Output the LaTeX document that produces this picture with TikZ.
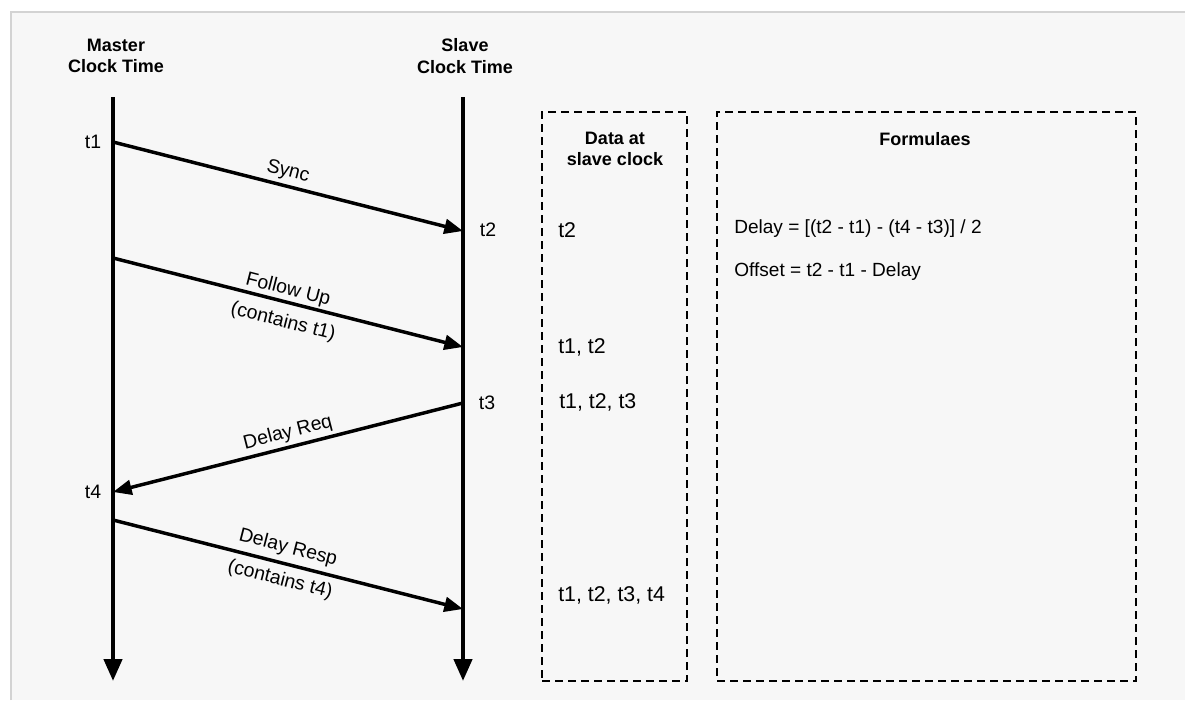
\documentclass[tikz,border=0pt]{standalone}
\usepackage{fontspec}
\setmainfont{Liberation Sans}
\usetikzlibrary{arrows.meta}
\definecolor{bgfill}{HTML}{F7F7F7}
\definecolor{bgline}{HTML}{D3D3D3}
\tikzset{
  lifeline/.style={line width=3.3pt,-{Triangle[length=16.5pt,width=13.5pt]}},
  msg/.style={line width=2.6pt,-{Triangle[length=14pt,width=11pt]}},
  dbox/.style={draw,line width=1pt,dash pattern=on 6pt off 3.75pt},
  head/.style={font=\fontsize{13.5}{16.2}\selectfont\bfseries,align=center,inner sep=0pt},
  txt/.style={font=\fontsize{14.6}{17}\selectfont,inner sep=0pt},
  dtxt/.style={font=\fontsize{16}{18}\selectfont,inner sep=0pt},
  ftxt/.style={font=\fontsize{14.3}{17}\selectfont,inner sep=0pt},
  lbl/.style={font=\fontsize{14.6}{17}\selectfont,inner sep=0pt}
}
\begin{document}
\begin{tikzpicture}[x=0.75pt,y=-0.75pt]
\useasboundingbox (0,0) rectangle (1185,700);
\fill[bgfill] (11,12) rectangle (1185,700);
\draw[bgline,line width=1pt] (11,700) -- (11,12) -- (1185,12);

% headers
\node[head] (mhead) at (116,56) {Master\\Clock Time};
\node[head] (shead) at (465,56) {Slave\\Clock Time};

% lifelines
\coordinate (mtop) at (113,97);
\coordinate (mbot) at (113,681);
\coordinate (stop) at (463,97);
\coordinate (sbot) at (463,681);
\draw[lifeline] (mtop) -- (mbot);
\draw[lifeline] (stop) -- (sbot);

% event points
\coordinate (t1m) at (113,142);
\coordinate (t2s) at (463,231);
\coordinate (fum) at (113,258);
\coordinate (fus) at (463,347);
\coordinate (t3s) at (463,403);
\coordinate (t4m) at (113,492);
\coordinate (drm) at (113,520);
\coordinate (drs) at (463,609);

\node[txt] (t1) at (93,142) {t1};
\node[txt] (t2) at (488,230) {t2};
\node[txt] (t3) at (487,403) {t3};
\node[txt] (t4) at (93,492) {t4};

% messages
\draw[msg] (t1m) -- (t2s);
\node[lbl,rotate=-14.4] (syncl) at (288,172) {Sync};
\draw[msg] (fum) -- (fus);
\node[lbl,rotate=-14.4] (ful) at (288,290) {Follow Up};
\node[lbl,rotate=-14.4] (fuc) at (283,322) {(contains t1)};
\draw[msg] (t3s) -- (t4m);
\node[lbl,rotate=14.4] (drql) at (288,433) {Delay Req};
\draw[msg] (drm) -- (drs);
\node[lbl,rotate=-14.4] (drpl) at (288,548) {Delay Resp};
\node[lbl,rotate=-14.4] (drpc) at (280,580) {(contains t4)};

% data box
\node[dbox,minimum width=145*0.75pt,minimum height=569*0.75pt,inner sep=0pt] (dbox) at (614.5,396.5) {};
\node[head] (dhead) at (615,149) {Data at\\slave clock};
\node[dtxt,anchor=west] (d1) at (558,230) {t2};
\node[dtxt,anchor=west] (d2) at (558,347) {t1, t2};
\node[dtxt,anchor=west] (d3) at (559,402) {t1, t2, t3};
\node[dtxt,anchor=west] (d4) at (558,595) {t1, t2, t3, t4};

% formulae box
\node[dbox,minimum width=419*0.75pt,minimum height=569*0.75pt,inner sep=0pt] (fbox) at (926.5,396.5) {};
\node[head] (fhead) at (925,139) {Formulaes};
\node[ftxt,anchor=west] (f1) at (734,229) {Delay = [(t2 - t1) - (t4 - t3)] / 2};
\node[ftxt,anchor=west] (f2) at (734,272) {Offset = t2 - t1 - Delay};
\end{tikzpicture}
\end{document}
